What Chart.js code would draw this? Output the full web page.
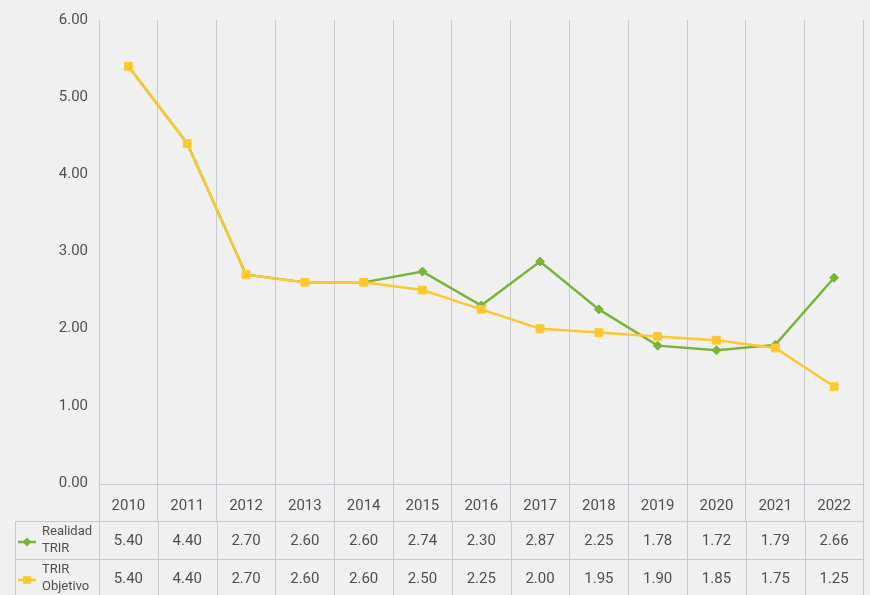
<!DOCTYPE html>
<html>
<head>
<meta charset="utf-8">
<script src="https://cdn.jsdelivr.net/npm/chart.js@4"></script>
<style>
html,body{margin:0;padding:0;background:#f0f0f0;}
#wrap{width:870px;height:595px;}
</style>
</head>
<body>
<div id="wrap"><canvas id="c" width="870" height="595"></canvas></div>
<script>
const years=['2010','2011','2012','2013','2014','2015','2016','2017','2018','2019','2020','2021','2022'];
const realidad=[5.40,4.40,2.70,2.60,2.60,2.74,2.30,2.87,2.25,1.78,1.72,1.79,2.66];
const objetivo=[5.40,4.40,2.70,2.60,2.60,2.50,2.25,2.00,1.95,1.90,1.85,1.75,1.25];
const seriesNames=[['Realidad','TRIR'],['TRIR','Objetivo']];
const yTicks=[0,1,2,3,4,5,6];

const GREEN='#78b43a',YELLOW='#fdc82f',GRID='#c9c9d1',TXT='#505050';
const FONT='Roboto, "DejaVu Sans", sans-serif';

// draws the data table under the x axis
const tablePlugin={
    id:'table',
    afterDraw(chart){
        const ctx=chart.ctx,x=chart.scales.x,area=chart.chartArea;
        const top=x.bottom,rowH=38,left=15,right=area.right;
        ctx.save();
        ctx.strokeStyle=GRID;ctx.lineWidth=1;
        ctx.beginPath();
        ctx.moveTo(area.left,area.bottom+1.5);ctx.lineTo(right,area.bottom+1.5);
        for(let r=0;r<3;r++){
            const y=Math.round(top+r*rowH)+0.5;
            ctx.moveTo(left,y);ctx.lineTo(right,y);
        }
        const half=(x.getPixelForValue(1)-x.getPixelForValue(0))/2;
        for(let i=0;i<=years.length;i++){
            const px=Math.round(x.getPixelForValue(0)-half+i*half*2)+0.5;
            ctx.moveTo(px,top);ctx.lineTo(px,top+rowH*2);
        }
        ctx.moveTo(left+0.5,top);ctx.lineTo(left+0.5,top+rowH*2);
        ctx.stroke();

        const rows=[realidad,objetivo],cols=[GREEN,YELLOW],styles=['rectRot','rect'],rad=[4.5,5.5];
        ctx.textBaseline='middle';
        rows.forEach((vals,r)=>{
            const cy=top+r*rowH+rowH/2;
            ctx.font='15px '+FONT;ctx.textAlign='center';ctx.fillStyle=TXT;
            vals.forEach((v,i)=>ctx.fillText(v.toFixed(2),x.getPixelForValue(i),cy+1));
            // legend key
            ctx.strokeStyle=cols[r];ctx.lineWidth=2.5;
            ctx.beginPath();ctx.moveTo(18,cy+2);ctx.lineTo(36,cy+2);ctx.stroke();
            ctx.fillStyle=cols[r];
            Chart.helpers.drawPoint(ctx,{pointStyle:styles[r],radius:rad[r],rotation:0},27,cy+2);
            ctx.font='13px '+FONT;ctx.textAlign='left';ctx.fillStyle=TXT;
            ctx.fillText(seriesNames[r][0],42,cy-8);
            ctx.fillText(seriesNames[r][1],42,cy+9);
        });
        ctx.restore();
    }
};

new Chart(document.getElementById('c'),{
    type:'line',
    data:{
        labels:years,
        datasets:[
            {label:'Realidad TRIR',data:realidad,borderColor:GREEN,backgroundColor:GREEN,borderWidth:2.5,
             pointStyle:'rectRot',pointBorderWidth:1,tension:0,order:2,
             // markers hidden where the yellow series sits on top
             pointRadius:c=>realidad[c.dataIndex]===objetivo[c.dataIndex]?0:4.5},
            {label:'TRIR Objetivo',data:objetivo,borderColor:YELLOW,backgroundColor:YELLOW,borderWidth:2.5,
             pointStyle:'rect',pointRadius:5.5,pointBorderWidth:1,tension:0,order:1}
        ]
    },
    options:{
        responsive:false,animation:false,
        layout:{padding:{top:20,right:2,bottom:74,left:0}},
        plugins:{legend:{display:false},tooltip:{enabled:false}},
        scales:{
            x:{
                offset:true,
                grid:{offset:true,color:GRID,lineWidth:1,tickLength:38,drawTicks:true},
                border:{display:false},
                ticks:{color:TXT,font:{family:FONT,size:15},padding:-24},
                afterFit(s){s.height=38;}
            },
            y:{
                min:0,max:6,
                afterBuildTicks(s){s.ticks=yTicks.map(v=>({value:v}));},
                grid:{display:false},
                border:{display:false},
                ticks:{color:TXT,font:{family:FONT,size:15},padding:3,callback:v=>v.toFixed(2)},
                afterFit(s){s.width=99;}
            }
        }
    },
    plugins:[tablePlugin]
});
</script>
</body>
</html>
